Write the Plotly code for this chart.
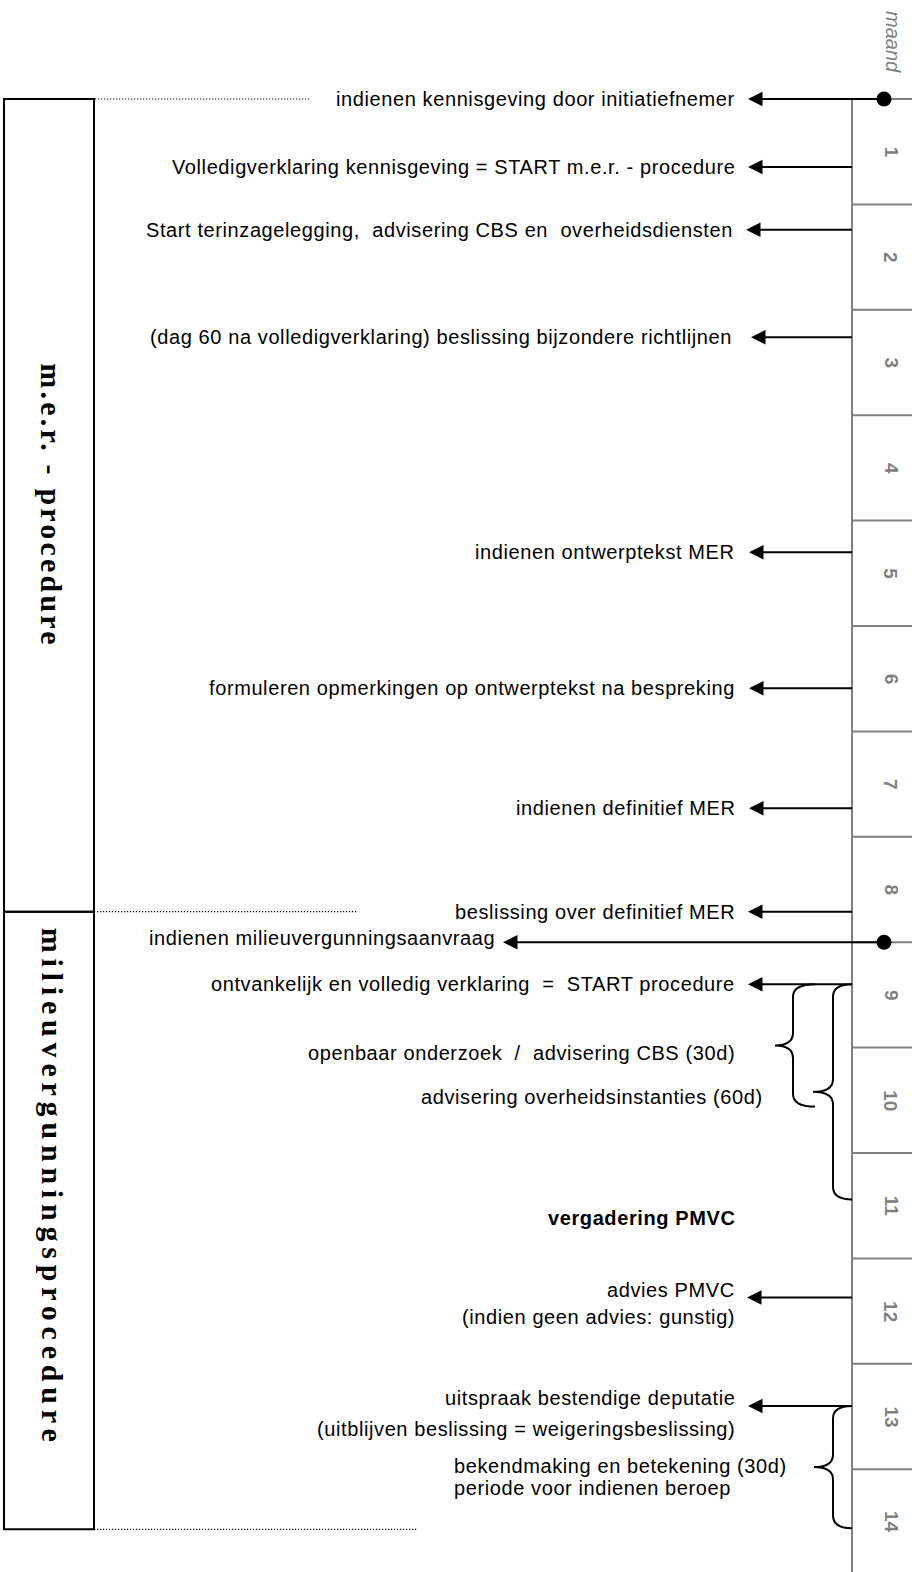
import plotly.graph_objects as go

# ---------------- data ----------------
month_labels = [str(i) for i in range(1, 15)]
month_boundaries = list(range(0, 14))

event_texts = [
    "indienen kennisgeving door initiatiefnemer",
    "Volledigverklaring kennisgeving = START m.e.r. - procedure",
    "Start terinzagelegging,  advisering CBS en  overheidsdiensten",
    "(dag 60 na volledigverklaring) beslissing bijzondere richtlijnen ",
    "indienen ontwerptekst MER",
    "formuleren opmerkingen op ontwerptekst na bespreking",
    "indienen definitief MER",
    "beslissing over definitief MER",
    "indienen milieuvergunningsaanvraag",
    "ontvankelijk en volledig verklaring  =  START procedure",
    "advies PMVC",
    "uitspraak bestendige deputatie",
]
event_months = [0.0, 0.645, 1.24, 2.26, 4.30, 5.59, 6.73, 7.71, 8.0, 8.40, 11.37, 12.40]
event_is_submission = [True, False, False, False, False, False, False, False, True, False, False, False]

note_texts = [
    "openbaar onderzoek  /  advisering CBS (30d)",
    "advisering overheidsinstanties (60d)",
    "vergadering PMVC",
    "(indien geen advies: gunstig)",
    "(uitblijven beslissing = weigeringsbeslissing)",
    "bekendmaking en betekening (30d)",
    "periode voor indienen beroep",
]
note_months = [9.05, 9.47, 10.62, 11.56, 12.62, 12.97, 13.18]

brace_start = [8.40, 8.40, 12.40]
brace_end = [9.56, 10.44, 13.56]

phase_labels = ["m.e.r. - procedure", "milieuvergunningsprocedure"]
phase_start = [0.0, 7.71]
phase_end = [7.71, 13.57]

axis_title = "maand"

# ---------------- layout constants ----------------
W, H = 912, 1572
PX_TOP, PX_PER_MONTH = 99.0, 105.4
Y_RANGE = [(H - PX_TOP) / PX_PER_MONTH, -PX_TOP / PX_PER_MONTH]

AXIS_X = 852
TICK_X1 = 912
DOT_X = 884
GRAY = "#808080"
SANS = "Liberation Sans, Arial, sans-serif"
SERIF = "Liberation Serif, Times New Roman, serif"
FS = 20

arrow_tip_x = [748, 748, 746, 751, 749, 749, 749, 748, 503, 748, 747, 748]
text_right_x = [737, 737, 735, 740, 737, 737, 737, 737, 497, 737, 737, 737]
text_dy = [0, 0, 0, 0, 0, 0, 0, 0, -0.04, 0, -0.07, -0.08]
note_x = [737, 765, 737, 737, 737, 452, 452]
note_anchor = ["right", "right", "right", "right", "right", "left", "left"]
note_bold = [False, False, True, False, False, False, False]

brace_right = [815, 852, 852]
brace_vert = [793, 833, 833]
brace_tip = [775, 813, 814]

box_x0, box_x1 = 4, 94
dotted_start = [50, 94, 94]
dotted_end = [310, 357, 417]
phase_label_x = 52
phase_label_y_offset = [0.0, -0.31]
phase_spacing = [3.2, 5.8]


def spaced(t, ls=0.6):
    return '<span style="letter-spacing:%spx">%s</span>' % (ls, t)


fig = go.Figure()
shapes = []
annotations = []

# month scale: vertical axis line and boundary ticks
shapes.append(dict(type="line", xref="x", yref="y", x0=AXIS_X, x1=AXIS_X,
                   y0=month_boundaries[0], y1=Y_RANGE[0], layer="below",
                   line=dict(color=GRAY, width=2)))
for b in month_boundaries:
    shapes.append(dict(type="line", xref="x", yref="y", x0=AXIS_X, x1=TICK_X1,
                       y0=b, y1=b, layer="below", line=dict(color=GRAY, width=2)))
for i, lab in enumerate(month_labels):
    annotations.append(dict(x=891, y=i + 0.5, xref="x", yref="y", text="<b>%s</b>" % lab,
                            showarrow=False, textangle=90,
                            font=dict(family=SANS, size=19, color=GRAY),
                            xanchor="center", yanchor="middle"))
annotations.append(dict(x=893, y=-0.54, xref="x", yref="y", text="<i>%s</i>" % axis_title,
                        showarrow=False, textangle=90,
                        font=dict(family=SANS, size=20, color=GRAY),
                        xanchor="center", yanchor="middle"))

# phase boxes
for lab, s, e, off, ls in zip(phase_labels, phase_start, phase_end, phase_label_y_offset, phase_spacing):
    shapes.append(dict(type="rect", xref="x", yref="y", x0=box_x0, x1=box_x1, y0=s, y1=e,
                       layer="below", line=dict(color="black", width=2)))
    annotations.append(dict(x=phase_label_x, y=(s + e) / 2 + off, xref="x", yref="y",
                            text="<b>%s</b>" % spaced(lab, ls), showarrow=False, textangle=90,
                            font=dict(family=SERIF, size=30, color="black"),
                            xanchor="center", yanchor="middle"))
for yv, xs, xe in zip([phase_start[0], phase_start[1], phase_end[1]], dotted_start, dotted_end):
    shapes.append(dict(type="line", xref="x", yref="y", x0=xs, x1=xe, y0=yv, y1=yv,
                       layer="below", line=dict(color="black", width=1.2, dash="1.2px,1.8px")))

# arrows
lx, ly = [], []
tip_x, tip_y = [], []
dot_x, dot_y = [], []
for t, m, sub, tx, rx, dy in zip(event_texts, event_months, event_is_submission,
                                  arrow_tip_x, text_right_x, text_dy):
    tail = DOT_X if sub else AXIS_X
    lx += [tail, tx + 6, None]
    ly += [m, m, None]
    tip_x.append(tx)
    tip_y.append(m)
    if sub:
        dot_x.append(DOT_X)
        dot_y.append(m)
    annotations.append(dict(x=rx, y=m + dy, xref="x", yref="y", text=spaced(t),
                            showarrow=False, font=dict(family=SANS, size=FS, color="black"),
                            xanchor="right", yanchor="middle"))

fig.add_trace(go.Scatter(x=lx, y=ly, mode="lines", line=dict(color="black", width=2),
                         hoverinfo="skip", showlegend=False))
fig.add_trace(go.Scatter(x=tip_x, y=tip_y, mode="markers",
                         marker=dict(symbol="arrow-left", size=14.5, color="black",
                                     line=dict(width=0)),
                         hoverinfo="skip", showlegend=False))
fig.add_trace(go.Scatter(x=dot_x, y=dot_y, mode="markers",
                         marker=dict(symbol="circle", size=15, color="black", line=dict(width=0)),
                         hoverinfo="skip", showlegend=False))

# notes
for t, m, x, anc, bold in zip(note_texts, note_months, note_x, note_anchor, note_bold):
    annotations.append(dict(x=x, y=m, xref="x", yref="y",
                            text=spaced("<b>%s</b>" % t if bold else t),
                            showarrow=False, font=dict(family=SANS, size=FS, color="black"),
                            xanchor=anc, yanchor="middle"))

# braces
R = 0.12
for s, e, xr, xv, xt in zip(brace_start, brace_end, brace_right, brace_vert, brace_tip):
    ym = (s + e) / 2
    path = ("M {xr},{s} Q {xv},{s} {xv},{s2} L {xv},{m1} Q {xv},{ym} {xt},{ym} "
            "Q {xv},{ym} {xv},{m2} L {xv},{e2} Q {xv},{e} {xr},{e}").format(
        xr=xr, xv=xv, xt=xt, s=s, e=e, s2=s + R, e2=e - R, ym=ym, m1=ym - R, m2=ym + R)
    shapes.append(dict(type="path", xref="x", yref="y", path=path,
                       line=dict(color="black", width=2), layer="above"))

fig.update_layout(
    width=W, height=H, autosize=False,
    margin=dict(l=0, r=0, t=0, b=0, pad=0),
    paper_bgcolor="white", plot_bgcolor="white",
    xaxis=dict(range=[0, W], visible=False, fixedrange=True),
    yaxis=dict(range=Y_RANGE, visible=False, fixedrange=True),
    shapes=shapes, annotations=annotations, showlegend=False,
)

fig.write_html("out.html", config={"displayModeBar": False},
               post_script="document.body.style.margin='0px';document.body.style.overflow='hidden';")
